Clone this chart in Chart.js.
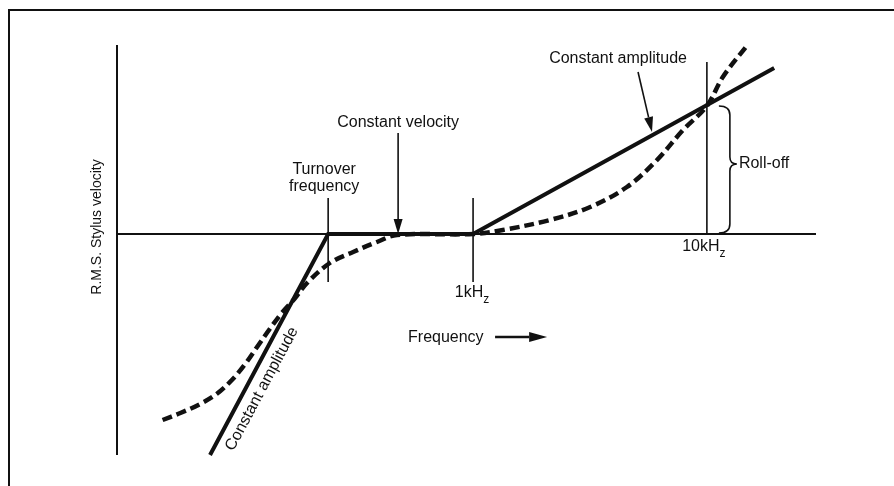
<!DOCTYPE html>
<html>
<head>
<meta charset="utf-8">
<script src="https://cdn.jsdelivr.net/npm/chart.js@4"></script>
<style>
  html, body { margin: 0; background: #fff; }
  #wrap { position: relative; width: 894px; height: 486px; overflow: hidden; }
  #frame { position: absolute; left: 8px; top: 9px; right: -4px; bottom: -4px;
           border-left: 2px solid #111; border-top: 2px solid #111; }
  canvas { position: absolute; left: 0; top: 0; }
</style>
</head>
<body>
<div id="wrap">
  <div id="frame"></div>
  <canvas id="chart" width="894" height="486"></canvas>
</div>
<script>
// straight-line asymptotes (constant amplitude / constant velocity)
const asymptoteHz = [75, 240, 1000, 19400];
const asymptoteDb = [-22.1, 0, 0, 16.6];

// actual recorded characteristic
const curveHz = [47, 56, 68, 80, 93, 106, 120, 135, 152, 172, 195, 244, 307, 388, 473,
                 1000, 1340, 2130, 3170, 4550, 6120, 7910, 10000, 11700, 14900];
const curveDb = [-18.6, -17.9, -17.0, -16.0, -14.6, -13.0, -11.2, -9.5, -7.9, -6.5, -4.9, -2.9, -1.8, -0.8, -0.1,
                 0, 0.4, 1.4, 2.7, 4.7, 7.4, 10.4, 12.8, 15.7, 18.9];

// marked frequencies on the horizontal axis
const markerHz = [240, 1000, 10000];
const markerLabels = ['', '1kH|z', '10kH|z'];

const toPoints = (xs, ys) => xs.map((x, i) => ({ x: x, y: ys[i] }));

const FONT = '"Liberation Sans", Arial, sans-serif';
const INK = '#111';

function arrow(ctx, x1, y1, x2, y2, len = 15, half = 4.5) {
  const a = Math.atan2(y2 - y1, x2 - x1);
  ctx.beginPath();
  ctx.moveTo(x1, y1);
  ctx.lineTo(x2 - Math.cos(a) * len, y2 - Math.sin(a) * len);
  ctx.stroke();
  ctx.beginPath();
  ctx.moveTo(x2, y2);
  ctx.lineTo(x2 - Math.cos(a) * len - Math.sin(a) * half, y2 - Math.sin(a) * len + Math.cos(a) * half);
  ctx.lineTo(x2 - Math.cos(a) * len + Math.sin(a) * half, y2 - Math.sin(a) * len - Math.cos(a) * half);
  ctx.closePath();
  ctx.fill();
}

// "10kH" with a lowered small "z"
function hzLabel(ctx, text, cx, cy) {
  const parts = text.split('|');
  ctx.font = '16px ' + FONT;
  const w1 = ctx.measureText(parts[0]).width;
  ctx.font = '12px ' + FONT;
  const w2 = ctx.measureText(parts[1]).width;
  const left = cx - (w1 + w2) / 2;
  ctx.textAlign = 'left';
  ctx.font = '16px ' + FONT;
  ctx.fillText(parts[0], left, cy);
  ctx.font = '12px ' + FONT;
  ctx.fillText(parts[1], left + w1, cy + 7);
}

const sketch = {
  id: 'sketch',
  beforeDatasetsDraw(chart) {
    const { ctx, chartArea: area, scales: { x, y } } = chart;
    const px = v => x.getPixelForValue(v), py = v => y.getPixelForValue(v);
    ctx.save();
    ctx.strokeStyle = INK;
    ctx.lineCap = 'butt';
    // axes
    ctx.lineWidth = 2;
    ctx.beginPath();
    ctx.moveTo(area.left, area.top);
    ctx.lineTo(area.left, area.bottom);
    ctx.moveTo(area.left, py(0));
    ctx.lineTo(area.right + 1, py(0));
    ctx.stroke();
    // frequency markers
    ctx.lineWidth = 1.6;
    ctx.beginPath();
    ctx.moveTo(px(markerHz[0]), py(3.6));
    ctx.lineTo(px(markerHz[0]), py(-4.8));
    ctx.moveTo(px(markerHz[1]), py(3.6));
    ctx.lineTo(px(markerHz[1]), py(-4.8));
    ctx.moveTo(px(markerHz[2]), py(17.2));
    ctx.lineTo(px(markerHz[2]), py(0));
    ctx.stroke();
    ctx.restore();
  },
  afterDatasetsDraw(chart) {
    const { ctx, chartArea: area, scales: { x, y } } = chart;
    const px = v => x.getPixelForValue(v), py = v => y.getPixelForValue(v);
    ctx.save();
    ctx.fillStyle = INK;
    ctx.strokeStyle = INK;
    ctx.textBaseline = 'middle';
    ctx.font = '16px ' + FONT;

    // vertical axis title
    ctx.save();
    ctx.translate(area.left - 20, py(0.7));
    ctx.rotate(-Math.PI / 2);
    ctx.textAlign = 'center';
    ctx.font = '14px ' + FONT;
    ctx.fillText('R.M.S. Stylus velocity', 0, 0);
    ctx.restore();

    ctx.textAlign = 'center';
    ctx.fillText('Turnover', px(markerHz[0]) - 4, py(6.4));
    ctx.fillText('frequency', px(markerHz[0]) - 4, py(4.7));
    ctx.fillText('Constant velocity', px(478), py(11.1));
    ctx.fillText('Constant amplitude', px(4170), py(17.5));

    hzLabel(ctx, markerLabels[1], px(markerHz[1]) - 1, py(-5.9));
    hzLabel(ctx, markerLabels[2], px(markerHz[2]) - 3, py(-1.3));

    ctx.textAlign = 'left';
    ctx.font = '16px ' + FONT;
    ctx.fillText('Frequency', px(527), py(-10.4));

    // pointers
    ctx.lineWidth = 1.6;
    arrow(ctx, px(478), py(10.1), px(478), py(0));
    arrow(ctx, px(5076), py(16.2), px(5826), py(10.2));
    ctx.lineWidth = 2.4;
    arrow(ctx, px(1242), py(-10.3), px(2073), py(-10.3), 18, 5);

    // roll-off brace beside the 10 kHz marker
    const bx = px(markerHz[2]);
    const top = py(12.8), bot = py(0) - 1, mid = py(7.0);
    ctx.lineWidth = 1.6;
    ctx.beginPath();
    ctx.moveTo(bx + 12, top);
    ctx.quadraticCurveTo(bx + 23, top, bx + 23, top + 9);
    ctx.lineTo(bx + 23, mid - 7);
    ctx.quadraticCurveTo(bx + 23, mid, bx + 30, mid);
    ctx.quadraticCurveTo(bx + 23, mid, bx + 23, mid + 7);
    ctx.lineTo(bx + 23, bot - 9);
    ctx.quadraticCurveTo(bx + 23, bot, bx + 12, bot);
    ctx.stroke();
    ctx.fillText('Roll-off', bx + 32, mid);

    // label running along the low-frequency asymptote
    const ang = Math.atan2(py(asymptoteDb[1]) - py(asymptoteDb[0]), px(asymptoteHz[1]) - px(asymptoteHz[0]));
    ctx.save();
    ctx.translate(px(125), py(-15.5));
    ctx.rotate(ang);
    ctx.textAlign = 'center';
    ctx.fillText('Constant amplitude', 0, 0);
    ctx.restore();

    ctx.restore();
  }
};

new Chart(document.getElementById('chart'), {
  type: 'line',
  data: {
    datasets: [
      {
        data: toPoints(asymptoteHz, asymptoteDb),
        borderColor: INK,
        borderWidth: 4,
        pointRadius: 0,
        tension: 0,
        clip: false
      },
      {
        data: toPoints(curveHz, curveDb),
        borderColor: INK,
        borderWidth: 4.5,
        borderDash: [10, 5],
        pointRadius: 0,
        tension: 0.35,
        clip: false
      }
    ]
  },
  options: {
    responsive: false,
    animation: false,
    layout: { padding: { left: 117, right: 79, top: 45, bottom: 31 } },
    plugins: { legend: { display: false }, tooltip: { enabled: false } },
    scales: {
      x: { type: 'logarithmic', min: 30, max: 29000, display: false },
      y: { type: 'linear', min: -22.1, max: 18.9, display: false }
    }
  },
  plugins: [sketch]
});
</script>
</body>
</html>
